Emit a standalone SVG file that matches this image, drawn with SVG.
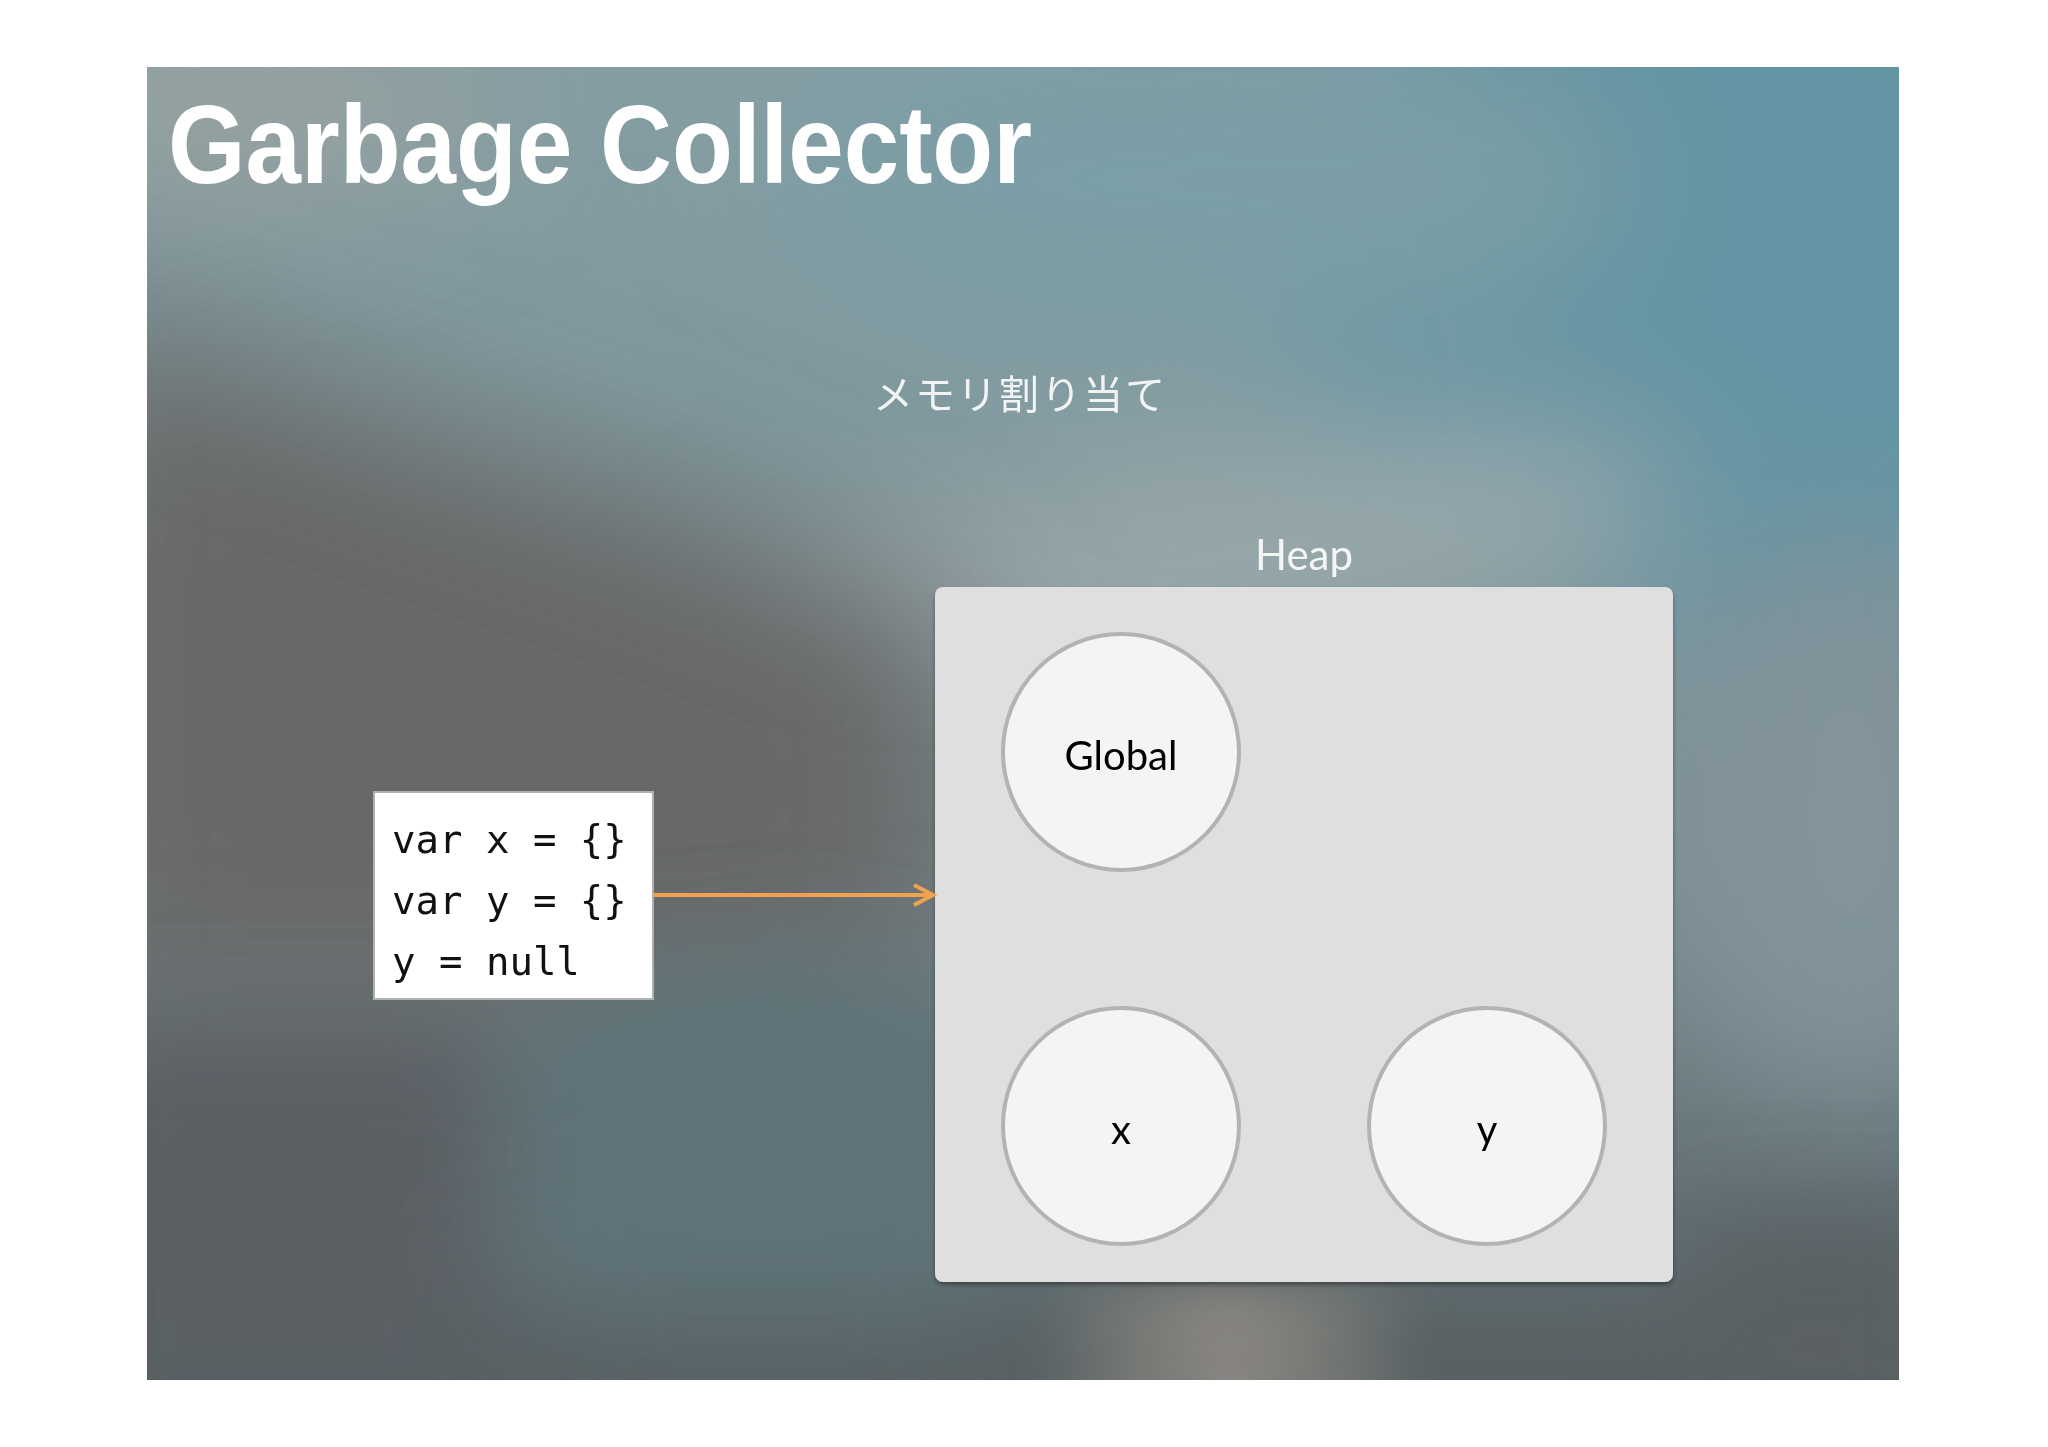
<svg xmlns="http://www.w3.org/2000/svg" width="2048" height="1447" viewBox="0 0 2048 1447">
  <defs>
    <style>
      .title { font-family: "Liberation Sans", Arial, sans-serif; font-weight: bold; font-size: 112px; fill: #ffffff; }
      .jp { font-family: "Noto Sans CJK JP", sans-serif; font-weight: 400; font-size: 40px; fill: #f2f4f4; letter-spacing: 2px; }
      .heapLabel { font-family: Lato, "Liberation Sans", sans-serif; font-weight: 400; font-size: 42px; fill: #f4f6f6; text-anchor: middle; }
      .nodeCircle { fill: #f4f3f5; stroke: #b3b2b4; stroke-width: 4; }
      .nodeLabel { font-family: Lato, "Liberation Sans", sans-serif; font-size: 40px; fill: #000000; text-anchor: middle; }
      .code { font-family: "DejaVu Sans Mono", "Liberation Mono", monospace; font-size: 39px; fill: #111111; }
      .codeBox { fill: #ffffff; stroke: #b0b0b0; stroke-width: 2; }
      .heapBox { fill: #e0dfe0; }
      .arrow { stroke: #f0a24f; stroke-width: 4; fill: none; }
    </style>
    <clipPath id="slideClip"><rect x="147" y="67" width="1752" height="1313"/></clipPath>
    <filter id="blur" x="-50%" y="-50%" width="200%" height="200%"><feGaussianBlur stdDeviation="70"/></filter>
    <filter id="blurL" x="-50%" y="-50%" width="200%" height="200%"><feGaussianBlur stdDeviation="85"/></filter>
    <filter id="blurM" x="-50%" y="-50%" width="200%" height="200%"><feGaussianBlur stdDeviation="50"/></filter>
    <filter id="blurS" x="-50%" y="-50%" width="200%" height="200%"><feGaussianBlur stdDeviation="22"/></filter>
    <filter id="shadow" x="-5%" y="-5%" width="110%" height="110%"><feDropShadow dx="0" dy="3" stdDeviation="2" flood-color="#000" flood-opacity="0.35"/></filter>
    <linearGradient id="bgBase" x1="0" y1="0" x2="0" y2="1">
      <stop offset="0" stop-color="#869ea3"/>
      <stop offset="0.3" stop-color="#80999e"/>
      <stop offset="0.6" stop-color="#7a8d92"/>
      <stop offset="0.85" stop-color="#667478"/>
      <stop offset="1" stop-color="#5a6466"/>
    </linearGradient>
    <linearGradient id="streak" x1="0" y1="0" x2="1" y2="0">
      <stop offset="0" stop-color="#8a8782" stop-opacity="0"/>
      <stop offset="0.3" stop-color="#82827c" stop-opacity="0.8"/>
      <stop offset="0.5" stop-color="#8a8682" stop-opacity="1"/>
      <stop offset="0.7" stop-color="#82827c" stop-opacity="0.8"/>
      <stop offset="1" stop-color="#8a8782" stop-opacity="0"/>
    </linearGradient>
    <marker id="chev" markerUnits="userSpaceOnUse" markerWidth="30" markerHeight="30" viewBox="0 0 30 30" refX="22" refY="15" orient="auto">
      <polyline points="3,5 22,15 3,25" fill="none" stroke="#f0a24f" stroke-width="4" stroke-linejoin="miter"/>
    </marker>
  </defs>

  <rect x="0" y="0" width="2048" height="1447" fill="#ffffff"/>

  <g id="background" clip-path="url(#slideClip)">
    <rect x="147" y="67" width="1752" height="1313" fill="url(#bgBase)"/>
    <g filter="url(#blur)">
      <ellipse cx="1750" cy="260" rx="480" ry="380" fill="#6494a3"/>
      <ellipse cx="1200" cy="180" rx="420" ry="160" fill="#7c9ea6"/>
      <ellipse cx="230" cy="110" rx="260" ry="90" fill="#97a1a0"/>
      <ellipse cx="1200" cy="560" rx="480" ry="110" fill="#98a7aa" transform="rotate(-8 1200 560)"/>
      <ellipse cx="1850" cy="820" rx="200" ry="280" fill="#82939a"/>
    </g>
    <polygon points="40,300 640,500 960,620 960,960 760,1020 40,1020" fill="#686867" filter="url(#blurL)"/>
    <g filter="url(#blurM)">
      <ellipse cx="760" cy="1150" rx="300" ry="200" fill="#5e7378"/>
      <rect x="60" y="1020" width="430" height="400" fill="#5b5f63"/>
      <rect x="60" y="1320" width="1900" height="150" fill="#596163"/>
      <rect x="1690" y="1220" width="270" height="220" fill="#5a6164"/>
    </g>
    <rect x="1040" y="1284" width="380" height="140" fill="url(#streak)" filter="url(#blurS)"/>
  </g>

  <text class="title" x="168" y="183" textLength="864" lengthAdjust="spacingAndGlyphs">Garbage Collector</text>
  <text class="jp" x="873" y="409">メモリ割り当て</text>

  <g id="heap">
    <text class="heapLabel" x="1304" y="570">Heap</text>
    <rect class="heapBox" x="935" y="587" width="738" height="695" rx="8" ry="8" filter="url(#shadow)"/>
  </g>

  <g id="node-global">
    <circle class="nodeCircle" cx="1121" cy="752" r="118"/>
    <text class="nodeLabel" x="1121" y="770">Global</text>
  </g>
  <g id="node-x">
    <circle class="nodeCircle" cx="1121" cy="1126" r="118"/>
    <text class="nodeLabel" x="1121" y="1144">x</text>
  </g>
  <g id="node-y">
    <circle class="nodeCircle" cx="1487" cy="1126" r="118"/>
    <text class="nodeLabel" x="1487" y="1144">y</text>
  </g>

  <g id="code">
    <rect class="codeBox" x="374" y="792" width="279" height="207"/>
    <text class="code" x="392" y="853" xml:space="preserve">var x = {}</text>
    <text class="code" x="392" y="914" xml:space="preserve">var y = {}</text>
    <text class="code" x="392" y="975" xml:space="preserve">y = null</text>
  </g>

  <g id="connectors">
    <line class="arrow" x1="653" y1="895" x2="933" y2="895" marker-end="url(#chev)"/>
  </g>
</svg>
